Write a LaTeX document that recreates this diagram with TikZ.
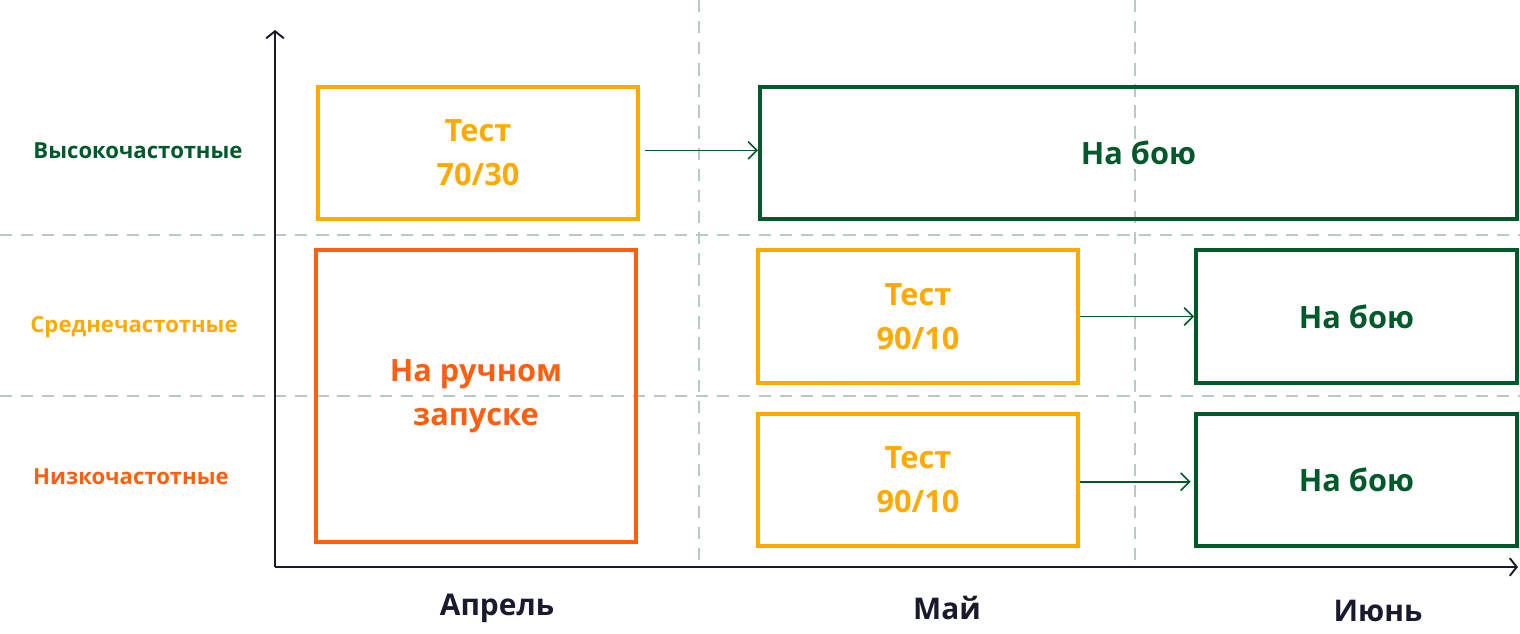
\documentclass[tikz,border=0pt]{standalone}
\usepackage{fontspec}
\setmainfont{Open Sans}
\usetikzlibrary{arrows.meta}
\definecolor{testcol}{HTML}{FFAA00}
\definecolor{handcol}{HTML}{FF5F0F}
\definecolor{livecol}{HTML}{00592A}
\definecolor{axiscol}{HTML}{1A1A2E}
\definecolor{gridcol}{HTML}{B9C9C6}
\begin{document}
\begin{tikzpicture}[x=0.02cm, y=-0.02cm,
    box/.style={draw, rectangle, line width=2.3pt, align=center,
        font=\fontsize{17.5}{25}\selectfont\bfseries},
    testbox/.style={box, draw=testcol, text=testcol},
    handbox/.style={box, draw=handcol, text=handcol},
    livebox/.style={box, draw=livecol, text=livecol},
    flow/.style={-{Straight Barb[length=5pt, width=10pt]}, draw=livecol, line width=0.9pt},
    grid/.style={draw=gridcol, line width=1pt, dash pattern=on 7pt off 5pt},
    axis/.style={-{Straight Barb[length=4pt, width=10pt]}, draw=axiscol, line width=1.1pt},
    rowlabel/.style={font=\fontsize{12.6}{15}\selectfont\bfseries},
    month/.style={font=\fontsize{17}{20}\selectfont\bfseries, text=axiscol}]
    \useasboundingbox (0,0) rectangle (1520,634);
    % grid
    \draw[grid] (699,0) -- (699,567);
    \draw[grid] (1135,0) -- (1135,567);
    \draw[grid] (0,235) -- (1520,235);
    \draw[grid] (0,396) -- (1520,396);
    % axes
    \coordinate (O) at (275,567);
    \coordinate (Ytop) at (275,30);
    \coordinate (Xend) at (1518,567);
    \draw[axis] (O) -- (Ytop);
    \draw[axis] (O) -- (Xend);
    % boxes
    \node[testbox, minimum width=6.4cm, minimum height=2.64cm] (hiTest) at (478,153) {Тест\\70/30};
    \node[livebox, minimum width=15.14cm, minimum height=2.64cm] (hiLive) at (1138.5,153) {На бою};
    \node[handbox, minimum width=6.4cm, minimum height=5.84cm] (hand) at (476,396) {На ручном\\запуске};
    \node[testbox, minimum width=6.4cm, minimum height=2.66cm] (midTest) at (918,316.5) {Тест\\90/10};
    \node[livebox, minimum width=6.42cm, minimum height=2.66cm] (midLive) at (1356.5,316.5) {На бою};
    \node[testbox, minimum width=6.4cm, minimum height=2.64cm] (loTest) at (918,480) {Тест\\90/10};
    \node[livebox, minimum width=6.42cm, minimum height=2.64cm] (loLive) at (1356.5,480) {На бою};
    \draw[flow] ([xshift=3pt, yshift=1.5pt]hiTest.east) -- ([yshift=1.5pt]hiLive.west);
    \draw[flow] (midTest.east) -- (midLive.west);
    \draw[flow] ([yshift=-1pt]loTest.east) -- ([xshift=-2pt, yshift=-1pt]loLive.west);
    % labels
    \node[rowlabel, text=livecol] (hiLab) at (138,151) {Высокочастотные};
    \node[rowlabel, text=testcol] (midLab) at (134,327) {Среднечастотные};
    \node[rowlabel, text=handcol] (loLab) at (131,477) {Низкочастотные};
    \node[month] (apr) at (497,608) {Апрель};
    \node[month] (may) at (947,608) {Май};
    \node[month] (jun) at (1378,611) {Июнь};
\end{tikzpicture}
\end{document}
